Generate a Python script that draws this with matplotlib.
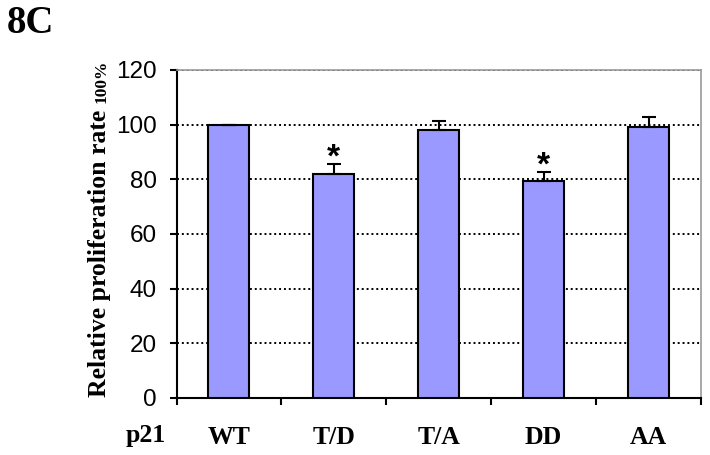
import matplotlib
matplotlib.use('Agg')
import matplotlib.pyplot as plt
import numpy as np

# data
categories = ['WT', 'T/D', 'T/A', 'DD', 'AA']
rates = [100, 82.1, 98.1, 79.3, 99.3]
errors = [0, 3.6, 3.4, 3.4, 3.5]
significant = [False, True, False, True, False]
yticks = [0, 20, 40, 60, 80, 100, 120]

W, H = 710, 455
fig = plt.figure(figsize=(W / 100, H / 100), dpi=100)
ax = fig.add_axes([176.5 / W, (H - 398) / H, (701 - 176.5) / W, (398 - 70) / H])

x = np.arange(len(categories))
ax.bar(x, rates, width=0.39, color='#9999ff', edgecolor='black', linewidth=1.5, zorder=3)
ax.errorbar(x, rates, yerr=[np.zeros(len(errors)), errors], fmt='none',
            ecolor='black', elinewidth=1.5, capsize=4.8, capthick=1.5, zorder=4)

for xi, r, e, s in zip(x, rates, errors, significant):
    if s:
        ax.text(xi, r + e - 1.0, '*', ha='center', va='baseline', fontsize=24,
                fontweight='bold', family='Liberation Sans')

ax.set_xlim(-0.5, len(categories) - 0.5)
ax.set_ylim(0, 120)
ax.set_yticks(yticks)
ax.set_yticklabels([str(t) for t in yticks], family='Liberation Sans', fontsize=17.5)
ax.yaxis.grid(True, linestyle=(0, (1, 1.5)), color='black', linewidth=1.4, zorder=1)
ax.set_axisbelow(True)

ax.set_xticks(np.arange(len(categories) + 1) - 0.5)
ax.set_xticklabels([])
ax.set_xticks(x, minor=True)
ax.set_xticklabels(categories, minor=True, family='Liberation Serif',
                   fontweight='bold', fontsize=18.5)
ax.tick_params(axis='x', which='minor', length=0, pad=20)
ax.tick_params(axis='x', which='major', direction='out', length=5, width=1.5)
ax.tick_params(axis='y', direction='out', length=5, width=1.5, pad=9)

for side in ['left', 'bottom']:
    ax.spines[side].set_linewidth(1.5)
for side in ['top', 'right']:
    ax.spines[side].set_color('#999999')
    ax.spines[side].set_linewidth(1.2)

fig.text(146 / W, 13 / H, 'p21', ha='center', va='baseline', family='Liberation Serif',
         fontweight='bold', fontsize=18.5)
fig.text(7 / W, (H - 33) / H, '8C', ha='left', va='baseline', family='Liberation Serif',
         fontweight='bold', fontsize=28)

lab = fig.text(106 / W, (H - 397) / H, 'Relative proliferation rate ', rotation=90,
               rotation_mode='anchor', ha='left', va='baseline',
               family='Liberation Serif', fontweight='bold', fontsize=18.5)
fig.canvas.draw()
bb = lab.get_window_extent()
fig.text(106 / W, bb.y1 / H, '100%', rotation=90, rotation_mode='anchor',
         ha='left', va='baseline', family='Liberation Serif', fontweight='bold', fontsize=12.5)

fig.savefig('out.png', dpi=100)
